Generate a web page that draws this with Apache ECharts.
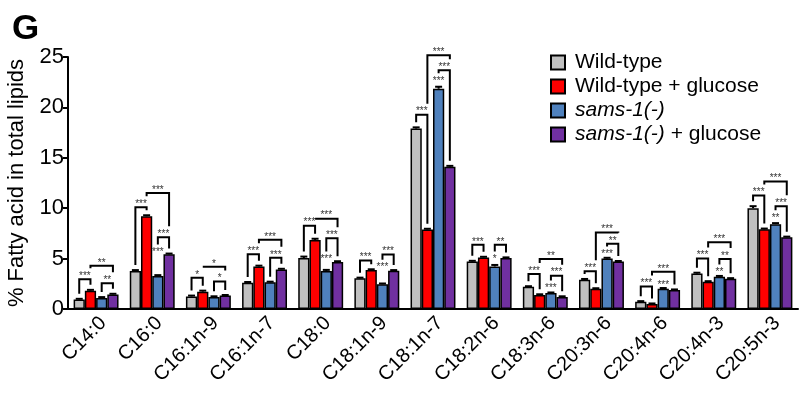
<!DOCTYPE html>
<html>
<head>
<meta charset="utf-8">
<script src="https://cdn.jsdelivr.net/npm/echarts/dist/echarts.min.js"></script>
<style>
  html, body { margin: 0; padding: 0; background: #fff; }
  #chart { width: 799px; height: 404px; }
</style>
</head>
<body>
<div id="chart"></div>
<script>
// Fatty acid composition (% of total lipids) per strain / condition
const categories = ['C14:0', 'C16:0', 'C16:1n-9', 'C16:1n-7', 'C18:0', 'C18:1n-9', 'C18:1n-7',
  'C18:2n-6', 'C18:3n-6', 'C20:3n-6', 'C20:4n-6', 'C20:4n-3', 'C20:5n-3'];

const wildType        = [0.95, 3.78, 1.25, 2.60, 5.05, 3.05, 17.90, 4.70, 2.20, 2.90, 0.72, 3.52, 10.00];
const wildTypeGlucose = [1.82, 9.20, 1.72, 4.22, 6.85, 3.86, 7.88, 5.12, 1.40, 2.00, 0.50, 2.70, 7.90];
const sams1           = [1.10, 3.28, 1.20, 2.65, 3.78, 2.45, 21.85, 4.22, 1.58, 5.00, 2.02, 3.20, 8.42];
const sams1Glucose    = [1.45, 5.42, 1.33, 3.93, 4.66, 3.80, 14.12, 5.06, 1.20, 4.70, 1.88, 3.00, 7.12];

// standard errors
const wildTypeErr        = [0.06, 0.08, 0.08, 0.08, 0.15, 0.06, 0.12, 0.08, 0.06, 0.08, 0.06, 0.08, 0.20];
const wildTypeGlucoseErr = [0.08, 0.10, 0.10, 0.08, 0.12, 0.08, 0.08, 0.06, 0.06, 0.06, 0.05, 0.06, 0.08];
const sams1Err           = [0.08, 0.08, 0.06, 0.06, 0.10, 0.08, 0.20, 0.15, 0.06, 0.08, 0.06, 0.08, 0.10];
const sams1GlucoseErr    = [0.06, 0.08, 0.06, 0.06, 0.08, 0.06, 0.08, 0.06, 0.06, 0.06, 0.06, 0.06, 0.06];

const yTicks = { min: 0, max: 25, interval: 5 };

// significance brackets: [category index, from bar, to bar, bracket height (%), stars]
const brackets = [
  [0, 0, 1, 2.96, '***'], [0, 2, 3, 2.56, '**'], [0, 1, 3, 4.29, '**'],
  [1, 0, 1, 10.1, '***'], [1, 2, 3, 7.13, '***'], [1, 1, 3, 11.5, '***'],
  [2, 0, 1, 3.10, '*'], [2, 2, 3, 2.73, '*'], [2, 1, 3, 4.19, '*'],
  [3, 0, 1, 5.44, '***'], [3, 2, 3, 5.08, '***'], [3, 1, 3, 6.87, '***'],
  [4, 0, 1, 8.26, '***'], [4, 2, 3, 7.03, '***'], [4, 1, 3, 8.96, '***'],
  [5, 0, 1, 4.82, '***'], [5, 2, 3, 5.41, '***'],
  [6, 0, 1, 19.28, '***'], [6, 2, 3, 23.68, '***'], [6, 1, 3, 25.17, '***'],
  [7, 0, 1, 6.37, '***'], [7, 2, 3, 6.37, '**'],
  [8, 0, 1, 3.46, '***'], [8, 2, 3, 3.30, '***'], [8, 1, 3, 4.95, '**'],
  [9, 0, 1, 3.75, '***'], [9, 2, 3, 6.47, '**'], [9, 1, 3, 7.60, '***'],
  [10, 0, 1, 2.23, '***'], [10, 1, 3, 3.69, '***'],
  [11, 0, 1, 5.01, '***'], [11, 2, 3, 4.95, '**'], [11, 1, 3, 6.63, '***'],
  [12, 0, 1, 11.27, '***'], [12, 2, 3, 10.20, '***'], [12, 1, 3, 12.66, '***']
];
// sams-1(-) vs wild-type stars over the sams-1(-) bar: [category index, bar, height (%), stars]
const barStars = [
  [1, 2, 5.8, '***'], [4, 2, 5.1, '***'], [5, 2, 4.3, '***'], [6, 2, 22.8, '***'],
  [7, 2, 5.1, '*'], [8, 2, 2.23, '***'], [9, 2, 5.6, '***'], [10, 2, 2.58, '***'],
  [11, 2, 3.82, '**'], [12, 2, 9.19, '**']
];

const seriesNames = ['Wild-type', 'Wild-type + glucose', 'sams-1(-)', 'sams-1(-) + glucose'];
const seriesColors = ['#c0c0c0', '#ff0000', '#4f81bd', '#7030a0'];
const seriesValues = [wildType, wildTypeGlucose, sams1, sams1Glucose];
const seriesErrors = [wildTypeErr, wildTypeGlucoseErr, sams1Err, sams1GlucoseErr];

const FONT = '"Liberation Sans", Arial, sans-serif';
const CAT_GAP = 0.2;

function barCenter(api, g, k) {
  const c = api.coord([g, 0])[0];
  const band = api.size([1, 0])[0];
  const w = band * (1 - CAT_GAP) / 4;
  return c + (k - 1.5) * w;
}

function starText(x, y, text) {
  return {
    type: 'text',
    style: { text: text, x: x, y: y, align: 'center', verticalAlign: 'middle',
      fontSize: 10, fontFamily: FONT, fill: '#333' }
  };
}

function renderErrors(params, api) {
  const g = api.value(0);
  const children = [];
  seriesValues.forEach((vals, k) => {
    const x = barCenter(api, g, k);
    const y0 = api.coord([g, vals[g]])[1];
    const y1 = api.coord([g, vals[g] + seriesErrors[k][g]])[1];
    children.push({ type: 'line', shape: { x1: x, y1: y0, x2: x, y2: y1 },
      style: { stroke: '#000', lineWidth: 2 } });
    children.push({ type: 'line', shape: { x1: x - 3.5, y1: y1, x2: x + 3.5, y2: y1 },
      style: { stroke: '#000', lineWidth: 2 } });
  });
  return { type: 'group', children: children };
}

function renderBrackets(params, api) {
  const g = api.value(0);
  const tops = seriesValues.map((vals, k) => vals[g] + seriesErrors[k][g]);
  const list = brackets.filter(b => b[0] === g);
  const stars = barStars.filter(s => s[0] === g);
  const yOf = v => api.coord([g, v])[1];
  const children = [];

  list.forEach(b => {
    const level = b[3];
    const xa = barCenter(api, g, b[1]);
    const xc = barCenter(api, g, b[2]);
    const yt = yOf(level);
    const legEnd = k => {
      let obs = yOf(tops[k]) - 5;
      list.forEach(o => {
        if (o !== b && o[3] < level && o[1] <= k && o[2] >= k) obs = Math.min(obs, yOf(o[3]) - 11);
      });
      stars.forEach(s => {
        if (s[1] === k && s[2] < level) obs = Math.min(obs, yOf(s[2]) - 6);
      });
      return Math.max(obs, yt);
    };
    children.push({
      type: 'polyline',
      shape: { points: [[xa, legEnd(b[1])], [xa, yt], [xc, yt], [xc, legEnd(b[2])]] },
      style: { stroke: '#000', lineWidth: 2, fill: null }
    });
    children.push(starText((xa + xc) / 2, yt - 3, b[4]));
  });

  stars.forEach(s => {
    children.push(starText(barCenter(api, g, s[1]), yOf(s[2]) + 2, s[3]));
  });
  return { type: 'group', children: children };
}

const chart = echarts.init(document.getElementById('chart'), null, { renderer: 'canvas' });

const groupIndex = categories.map((c, i) => [i]);

const barSeries = seriesNames.map((name, k) => ({
  name: name,
  type: 'bar',
  data: seriesValues[k],
  barGap: '0%',
  barCategoryGap: (CAT_GAP * 100) + '%',
  itemStyle: { color: seriesColors[k], borderColor: '#000', borderWidth: 1.5 },
  z: 2
}));

chart.setOption({
  animation: false,
  backgroundColor: '#fff',
  title: {
    text: 'G', left: 7, top: 7,
    textStyle: { fontSize: 35, fontWeight: 'bold', fontFamily: FONT, color: '#000' }
  },
  legend: {
    data: seriesNames,
    orient: 'vertical',
    left: 550,
    top: 52,
    padding: 0,
    itemWidth: 14,
    itemHeight: 14,
    itemGap: 3,
    icon: 'rect',
    formatter: name => name.replace('sams-1(-)', '{i|sams-1(-)}'),
    textStyle: {
      fontSize: 21, fontFamily: FONT, color: '#000', lineHeight: 21, padding: [0, 0, 0, 5],
      rich: { i: { fontStyle: 'italic', fontSize: 21, fontFamily: FONT, color: '#000', lineHeight: 21 } }
    }
  },
  grid: { left: 68, right: 1, top: 57, bottom: 95, outerBoundsMode: 'none', containLabel: false },
  xAxis: {
    type: 'category',
    data: categories,
    axisLine: { lineStyle: { color: '#000', width: 2 } },
    axisTick: { show: false },
    axisLabel: { rotate: 45, interval: 0, fontSize: 20, fontFamily: FONT, color: '#000',
      margin: 4, verticalAlign: 'top' }
  },
  yAxis: {
    type: 'value',
    min: yTicks.min, max: yTicks.max, interval: yTicks.interval,
    name: '% Fatty acid in total lipids',
    nameLocation: 'middle',
    nameRotate: 90,
    nameGap: 40,
    nameTextStyle: { fontSize: 22, fontFamily: FONT, color: '#000' },
    axisLine: { show: true, lineStyle: { color: '#000', width: 2 } },
    axisTick: { show: true, length: 5, lineStyle: { color: '#000', width: 2 } },
    axisLabel: { fontSize: 22, fontFamily: FONT, color: '#000', margin: 4 },
    splitLine: { show: false }
  },
  series: barSeries.concat([
    {
      name: 'errors', type: 'custom', data: groupIndex, renderItem: renderErrors,
      encode: { x: 0 }, z: 3, clip: false, silent: true
    },
    {
      name: 'significance', type: 'custom', data: groupIndex, renderItem: renderBrackets,
      encode: { x: 0 }, z: 4, clip: false, silent: true
    }
  ])
});
</script>
</body>
</html>
